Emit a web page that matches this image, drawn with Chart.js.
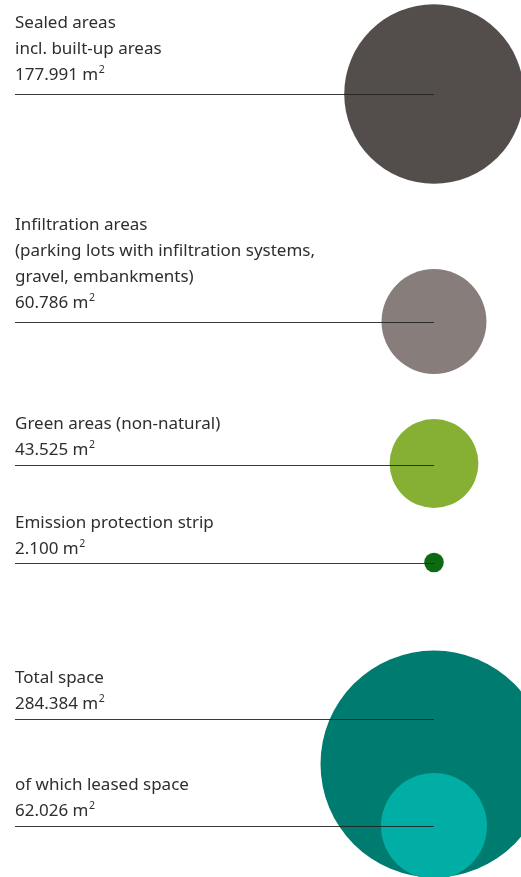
<!DOCTYPE html>
<html>
<head>
<meta charset="utf-8">
<script src="https://cdn.jsdelivr.net/npm/chart.js@4.4.1/dist/chart.umd.min.js"></script>
<style>
  html, body { margin: 0; padding: 0; background: #fff; }
  #wrap { width: 521px; height: 877px; }
</style>
</head>
<body>
<div id="wrap"><canvas id="areas" width="521" height="877"></canvas></div>
<script>
// Land use of the site, in m²
const categories = [
    ['Sealed areas', 'incl. built-up areas'],
    ['Infiltration areas', '(parking lots with infiltration systems,', 'gravel, embankments)'],
    ['Green areas (non-natural)'],
    ['Emission protection strip'],
    ['Total space'],
    ['of which leased space']
];
const areaValues = [177991, 60786, 43525, 2100, 284384, 62026];
const valueLabels = ['177.991', '60.786', '43.525', '2.100', '284.384', '62.026'];

// layout: bubble column, row rule positions and bubble centres (chart units = px)
const colX = 434;
const ruleY = [94, 322, 465, 563, 719, 826];
const centreY = [94, 321.5, 463.5, 562.5, 764, 826];
const captionGap = [15, 15, 11, 10, 11, 11]; // last baseline above the rule
const colors = ['#534e4b', '#877e7c', '#86b033', '#0b6a12', '#007b6f', '#00aea6'];
const radiusPerSqrt = 0.2128; // bubble area proportional to m²
const FONT = '"Noto Sans", Lato, sans-serif';

const bubbles = areaValues.map((v, i) => ({
    x: colX,
    y: centreY[i],
    r: radiusPerSqrt * Math.sqrt(v)
}));

// Rules and captions are drawn over the bubbles
const captionPlugin = {
    id: 'captions',
    afterDatasetsDraw(chart) {
        const { ctx, scales: { x, y } } = chart;
        const left = x.getPixelForValue(15);
        const right = x.getPixelForValue(colX);
        ctx.save();
        categories.forEach((lines, i) => {
            const ly = Math.round(y.getPixelForValue(ruleY[i])) + 0.5;
            ctx.strokeStyle = 'rgba(35,35,35,0.9)';
            ctx.lineWidth = 1;
            ctx.beginPath();
            ctx.moveTo(left, ly);
            ctx.lineTo(right, ly);
            ctx.stroke();

            const rows = [...lines, null];
            ctx.fillStyle = '#2e2e2e';
            ctx.textBaseline = 'alphabetic';
            ctx.textAlign = 'left';
            rows.forEach((txt, j) => {
                const by = ly - captionGap[i] - (rows.length - 1 - j) * 26;
                ctx.font = '17px ' + FONT;
                if (txt !== null) {
                    ctx.fillText(txt, left, by);
                } else {
                    const main = valueLabels[i] + ' m';
                    ctx.fillText(main, left, by);
                    const w = ctx.measureText(main).width;
                    ctx.font = '10.5px ' + FONT;
                    ctx.fillText('2', left + w + 0.5, by - 6.5);
                }
            });
        });
        ctx.restore();
    }
};

// Total space has to sit under the leased-space bubble, so order is kept
new Chart(document.getElementById('areas'), {
    type: 'bubble',
    data: {
        datasets: [{
            data: bubbles,
            backgroundColor: colors,
            borderWidth: 0,
            hoverBorderWidth: 0,
            clip: false
        }]
    },
    options: {
        responsive: false,
        animation: false,
        events: [],
        layout: { padding: 0, autoPadding: false },
        plugins: { legend: { display: false }, tooltip: { enabled: false } },
        scales: {
            x: { type: 'linear', min: 0, max: 521, display: false },
            y: { type: 'linear', min: 0, max: 877, reverse: true, display: false }
        }
    },
    plugins: [captionPlugin]
});
</script>
</body>
</html>
